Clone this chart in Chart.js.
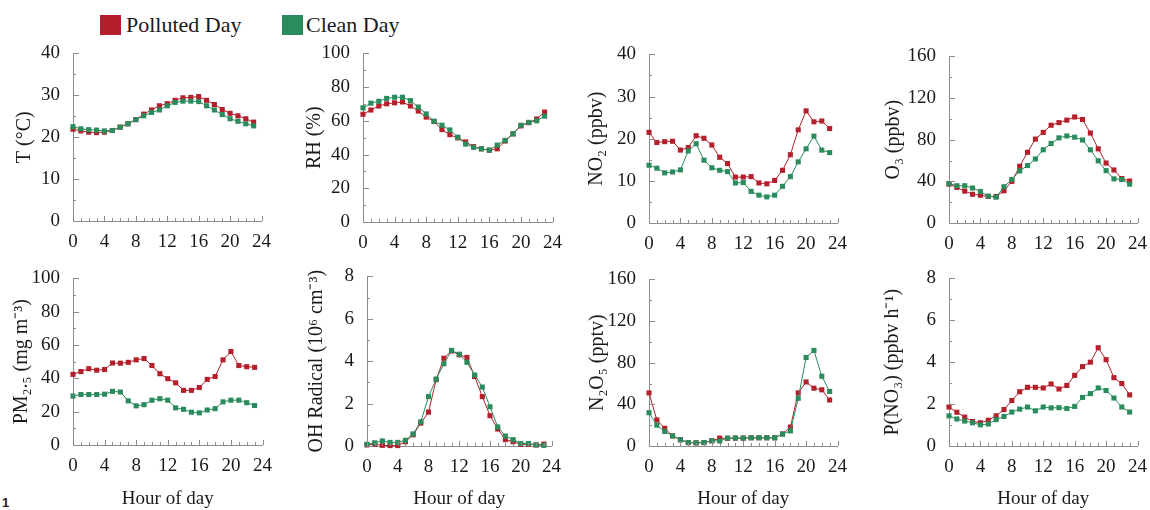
<!DOCTYPE html>
<html>
<head>
<meta charset="utf-8">
<script src="https://cdn.jsdelivr.net/npm/chart.js@4.4.0/dist/chart.umd.min.js"></script>
<style>
  html, body { margin: 0; padding: 0; background: #fff; }
  body { width: 1150px; height: 510px; overflow: hidden; position: relative; font-family: 'Liberation Serif', serif; }
  canvas { position: absolute; }
  .sw { position: absolute; top: 15px; width: 21px; height: 20px; }
  .lg { position: absolute; top: 12px; font-size: 22px; line-height: 26px; color: #1a1a1a; }
  .tag { position: absolute; left: 2px; top: 495px; font: bold 13px 'Liberation Sans', sans-serif; color: #222; }
</style>
</head>
<body>
<div class="sw" style="left:100px;background:#B3202B"></div>
<div class="lg" style="left:126px">Polluted Day</div>
<div class="sw" style="left:282px;background:#2A8B5C"></div>
<div class="lg" style="left:306px">Clean Day</div>
<div class="tag">1</div>

<script>
const hours = [0, 1, 2, 3, 4, 5, 6, 7, 8, 9, 10, 11, 12, 13, 14, 15, 16, 17, 18, 19, 20, 21, 22, 23];

const tPolluted = [21.9, 21.5, 21.2, 21.1, 21.2, 21.6, 22.4, 23.2, 24.2, 25.5, 26.5, 27.5, 28.0, 28.8, 29.4, 29.5, 29.7, 28.8, 27.8, 26.6, 25.7, 25.1, 24.4, 23.6];
const tClean    = [22.5, 22.0, 21.8, 21.7, 21.5, 21.6, 22.4, 23.2, 24.2, 25.1, 25.9, 26.5, 27.5, 28.3, 28.6, 28.6, 28.5, 27.5, 26.5, 25.4, 24.4, 23.8, 23.2, 22.7];

const rhPolluted = [63.9, 66.4, 68.8, 70.1, 70.7, 71.2, 68.8, 65.8, 62.2, 59.6, 54.8, 51.8, 49.9, 47.5, 44.7, 43.4, 42.6, 43.4, 48.0, 52.3, 57.0, 58.9, 61.1, 65.2];
const rhClean    = [67.7, 70.5, 71.6, 73.3, 74.0, 74.0, 72.0, 68.2, 64.1, 59.8, 57.4, 54.6, 50.3, 46.2, 44.3, 43.4, 42.6, 45.6, 48.4, 52.3, 57.4, 59.1, 60.0, 62.8];

const no2Polluted = [21.5, 19.1, 19.3, 19.4, 17.3, 17.9, 20.7, 20.1, 18.5, 15.6, 14.1, 10.9, 10.9, 11.0, 9.5, 9.3, 10.1, 12.5, 16.2, 22.1, 26.6, 24.0, 24.2, 22.4];
const no2Clean    = [13.7, 13.0, 11.9, 12.1, 12.6, 17.1, 18.8, 14.9, 13.1, 12.5, 12.2, 9.5, 9.6, 7.5, 6.6, 6.2, 6.6, 8.7, 11.0, 14.5, 17.6, 20.6, 17.3, 16.7];

const o3Polluted = [37.3, 34.2, 30.6, 27.6, 26.7, 25.5, 25.5, 30.9, 40.0, 54.5, 67.9, 80.6, 87.0, 93.9, 96.4, 98.8, 101.8, 99.4, 86.4, 71.2, 57.6, 50.9, 42.7, 40.3];
const o3Clean    = [37.9, 35.8, 35.8, 33.6, 30.3, 25.8, 24.8, 34.8, 41.8, 50.0, 55.2, 61.5, 70.3, 76.4, 81.8, 83.6, 82.4, 79.7, 70.3, 59.7, 50.3, 42.4, 41.8, 37.3];

const pmPolluted = [42.4, 44.1, 45.8, 44.9, 45.3, 49.2, 49.1, 49.6, 51.1, 51.9, 47.7, 42.8, 39.8, 37.3, 32.8, 32.8, 34.5, 39.4, 41.1, 51.1, 56.1, 47.7, 47.0, 46.6];
const pmClean    = [29.4, 30.3, 30.3, 30.3, 30.5, 32.2, 31.8, 26.5, 23.5, 24.2, 26.9, 27.8, 26.9, 22.3, 21.4, 19.7, 19.3, 21.0, 21.8, 25.9, 26.9, 26.9, 25.4, 23.7];

const ohPolluted = [0.05, 0.08, 0.03, 0.02, 0.02, 0.20, 0.53, 1.08, 1.60, 3.13, 4.14, 4.48, 4.30, 4.18, 3.28, 2.33, 1.43, 0.80, 0.30, 0.20, 0.08, 0.08, 0.05, 0.09];
const ohClean    = [0.08, 0.15, 0.24, 0.17, 0.17, 0.27, 0.57, 1.14, 2.33, 3.16, 3.88, 4.51, 4.33, 3.95, 3.35, 2.78, 1.85, 0.90, 0.47, 0.30, 0.12, 0.12, 0.05, 0.03];

const n2o5Polluted = [51, 25, 17, 9.7, 6, 3.3, 3, 3.3, 5, 7.6, 7.3, 7.6, 7.6, 7.9, 7.9, 7.9, 7.9, 11.5, 18.2, 51, 61.5, 55.5, 54, 44.2];
const n2o5Clean    = [32, 20, 14, 9.7, 6, 3.3, 3, 3.3, 5, 4.8, 7.6, 7.6, 7.6, 7.9, 7.9, 7.9, 7.9, 11.5, 14.5, 45.8, 85, 91.8, 67, 52.4];

const pno3Polluted = [1.86, 1.61, 1.38, 1.17, 1.11, 1.23, 1.44, 1.74, 2.17, 2.59, 2.80, 2.80, 2.77, 2.96, 2.72, 2.89, 3.37, 3.79, 4.00, 4.69, 4.12, 3.26, 2.98, 2.44];
const pno3Clean    = [1.44, 1.29, 1.19, 1.11, 1.01, 1.05, 1.26, 1.41, 1.62, 1.76, 1.86, 1.68, 1.86, 1.82, 1.83, 1.79, 1.89, 2.32, 2.50, 2.77, 2.65, 2.29, 1.86, 1.62];

const RED = '#B3202B';
const GREEN = '#2A8B5C';
const AXIS = '#8c8c8c';
const TXT = '#1a1a1a';
const FONT = "'Liberation Serif', 'Times New Roman', serif";

// small ticks drawn inward, majors a bit longer
const innerTicks = {
  id: 'innerTicks',
  afterDraw(chart) {
    const { ctx, scales: { x, y } } = chart;
    ctx.save();
    ctx.strokeStyle = AXIS;
    ctx.lineWidth = 1;
    ctx.beginPath();
    for (let h = 0; h <= 24; h++) {
      const px = Math.round(x.getPixelForValue(h)) + 0.5;
      const len = h % 4 === 0 ? 5 : 3;
      ctx.moveTo(px, y.bottom);
      ctx.lineTo(px, y.bottom - len);
    }
    const step = y.options.ticks.stepSize;
    for (let k = 0; k <= Math.round((y.max - y.min) / (step / 2)); k++) {
      const v = y.min + k * step / 2;
      const py = Math.round(y.getPixelForValue(v)) + 0.5;
      const len = k % 2 === 0 ? 6 : 3;
      ctx.moveTo(x.left, py);
      ctx.lineTo(x.left + len, py);
    }
    ctx.stroke();
    ctx.restore();
  }
};

const panels = [
  { L: 73,  R: 265,  T: 44,  B: 221, tx: 25,  ymax: 40,  step: 10, title: 'T (°C)',           red: tPolluted,    green: tClean },
  { L: 363, R: 556,  T: 44,  B: 222, tx: 315, ymax: 100, step: 20, title: 'RH (%)',           red: rhPolluted,   green: rhClean },
  { L: 649, R: 841,  T: 45,  B: 223, tx: 597, ymax: 40,  step: 10, title: 'NO₂ (ppbv)',       red: no2Polluted,  green: no2Clean },
  { L: 949, R: 1141, T: 47,  B: 223, tx: 894, ymax: 160, step: 40, title: 'O₃ (ppbv)',        red: o3Polluted,   green: o3Clean },
  { L: 73,  R: 266,  T: 269, B: 445, tx: 22,  ymax: 100, step: 20, title: 'PM₂.₅ (mg m⁻³)',   red: pmPolluted,   green: pmClean,   bottom: true },
  { L: 367, R: 555,  T: 267, B: 446, tx: 317, ymax: 8,   step: 2,  title: 'OH Radical (10⁶ cm⁻³)', red: ohPolluted, green: ohClean, bottom: true },
  { L: 649, R: 841,  T: 270, B: 446, tx: 598, ymax: 160, step: 40, title: 'N₂O₅ (pptv)',      red: n2o5Polluted, green: n2o5Clean, bottom: true },
  { L: 949, R: 1141, T: 269, B: 446, tx: 893, ymax: 8,   step: 2,  title: 'P(NO₃) (ppbv h⁻¹)', red: pno3Polluted, green: pno3Clean, bottom: true }
];

const Y_TITLE_SIZE = 20;
const PAD_T = 15;
const PAD_R = 16;

function series(values, color, order) {
  return {
    data: hours.map((h, i) => ({ x: h, y: values[i] })),
    borderColor: color,
    backgroundColor: color,
    borderWidth: 1,
    pointStyle: 'rect',
    pointRadius: 3.6,
    pointBorderWidth: 0,
    tension: 0,
    clip: false,
    order: order
  };
}

panels.forEach(p => {
  const canvasLeft = Math.round(p.tx - Y_TITLE_SIZE * 1.2 / 2);
  const canvasTop = p.T - PAD_T;
  const canvasBottom = p.bottom ? 510 : p.B + 40;
  const yw = p.L - canvasLeft;
  const xh = canvasBottom - p.B;

  const cv = document.createElement('canvas');
  cv.width = p.R + PAD_R - canvasLeft;
  cv.height = canvasBottom - canvasTop;
  cv.style.left = canvasLeft + 'px';
  cv.style.top = canvasTop + 'px';
  document.body.appendChild(cv);

  new Chart(cv.getContext('2d'), {
    type: 'line',
    data: {
      datasets: [series(p.red, RED, 1), series(p.green, GREEN, 0)]
    },
    options: {
      responsive: false,
      animation: false,
      devicePixelRatio: 1,
      layout: { padding: { top: PAD_T, right: PAD_R, left: 0, bottom: 0 } },
      plugins: { legend: { display: false }, tooltip: { enabled: false } },
      scales: {
        x: {
          type: 'linear',
          min: 0,
          max: 24,
          grid: { display: false, drawTicks: false },
          border: { color: AXIS, width: 1 },
          ticks: { stepSize: 4, padding: 10, color: TXT, font: { family: FONT, size: 19 }, maxRotation: 0, autoSkip: false },
          title: { display: !!p.bottom, text: 'Hour of day', color: TXT, font: { family: FONT, size: 19 }, padding: { top: 0, bottom: 0 } },
          afterFit(s) { s.height = xh; }
        },
        y: {
          min: 0,
          max: p.ymax,
          grid: { display: false, drawTicks: false },
          border: { color: AXIS, width: 1 },
          ticks: { stepSize: p.step, padding: 13, color: TXT, font: { family: FONT, size: 19 } },
          title: { display: true, text: p.title, color: TXT, font: { family: FONT, size: Y_TITLE_SIZE }, padding: 0 },
          afterFit(s) { s.width = yw; }
        }
      }
    },
    plugins: [innerTicks]
  });
});
</script>
</body>
</html>
